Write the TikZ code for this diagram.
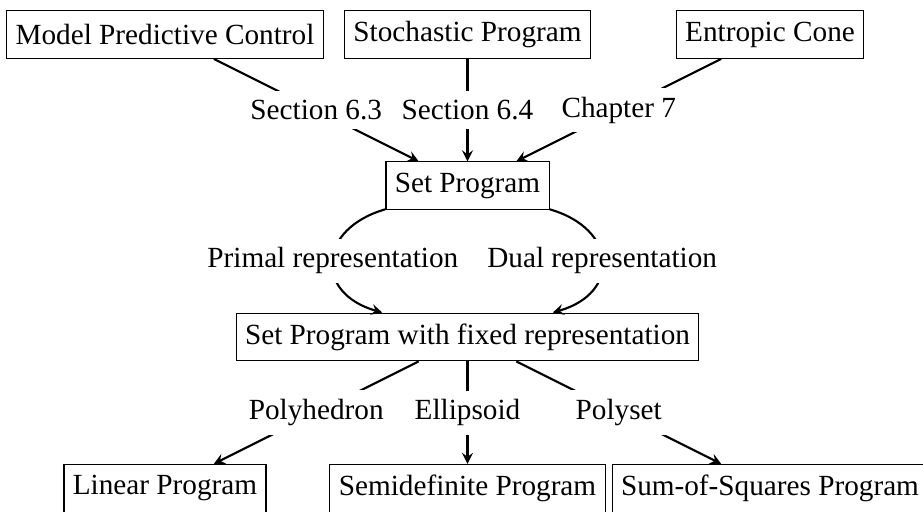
\documentclass[tikz,border=0pt]{standalone}
\usepackage{fontspec}
\setmainfont{Liberation Serif}
\begin{document}
\begin{tikzpicture}[font=\fontsize{11}{13}\selectfont, >=stealth]

        \useasboundingbox (-6.182,-6.301) rectangle (6.023,0.456);

        \begin{scope}[every node/.style={rectangle,draw,minimum height=18pt}]
          \node (mpc)   at (-4,0)  {Model Predictive Control};
          \node (stoch) at (0,0)   {Stochastic Program};
          \node (ent)   at (4,0)   {Entropic Cone};
          \node (set)   at (0,-2)  {Set Program};
          \node (fixed) at (0,-4)  {Set Program with fixed representation};
          \node (lp)    at (-4,-6) {Linear Program};
          \node (sdp)   at (0,-6)  {Semidefinite Program};
          \node (sos)   at (4,-6)  {Sum-of-Squares Program};
        \end{scope}

        \begin{scope}[every node/.style={fill=white}]

          \begin{scope}[every edge/.style={draw,->,thick}]
            \path (mpc)   edge node {Section 6.3} (set);
            \path (stoch) edge node {Section 6.4} (set);
            \path (ent)   edge node {Chapter 7} (set);
            \path (set)   edge[out=196,in=164,looseness=1.75] node {Primal representation} (fixed);
            \path (set)   edge[out=-16,in=16,looseness=1.75] node {Dual representation} (fixed);
            \path (fixed) edge node {Polyhedron} (lp);
            \path (fixed) edge node {Ellipsoid} (sdp);
            \path (fixed) edge node {Polyset} (sos);
          \end{scope}
        \end{scope}

      \end{tikzpicture}
\end{document}
